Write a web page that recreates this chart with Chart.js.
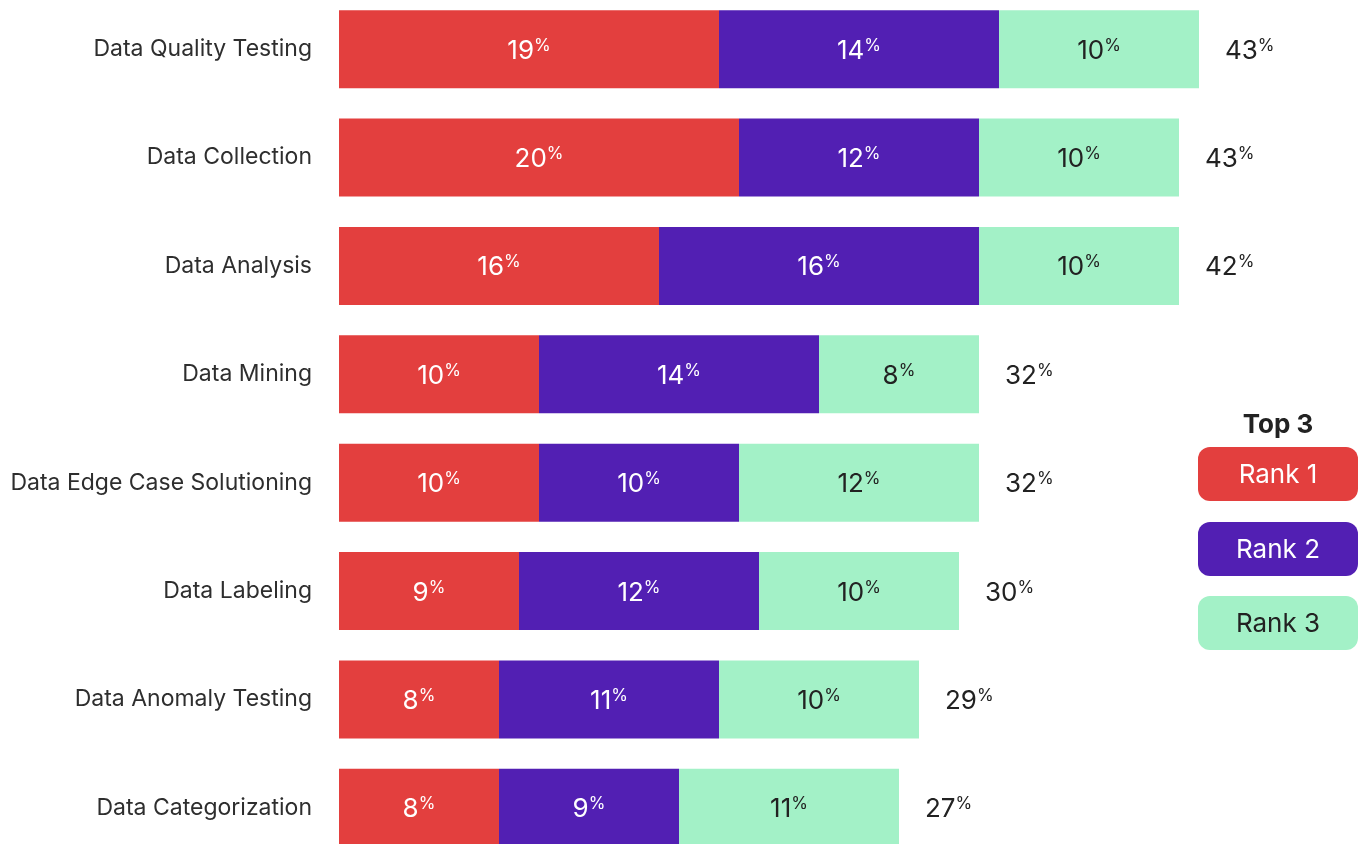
<!DOCTYPE html>
<html>
<head>
<meta charset="utf-8">
<script src="https://cdn.jsdelivr.net/npm/chart.js@4.4.0/dist/chart.umd.min.js"></script>
<style>
  html, body { margin: 0; padding: 0; background: #fff; overflow: hidden; }
  body { width: 1359px; height: 844px; position: relative; font-family: Inter, sans-serif; }
  #wrap { position: absolute; left: 0; top: -5px; width: 1359px; height: 867px; }
  #legend { position: absolute; left: 1198px; top: 404px; width: 160px; }
  #legend .title { text-align: center; font-weight: 700; font-size: 26px; color: #222; height: 40px; line-height: 40px; margin-bottom: 3px; }
  #legend .item { height: 54px; border-radius: 12px; margin-bottom: 20.5px; text-align: center; line-height: 54px; font-size: 26px; }
</style>
</head>
<body>
<div id="wrap"><canvas id="chart"></canvas></div>
<div id="legend"></div>
<script>
const categories = ['Data Quality Testing', 'Data Collection', 'Data Analysis', 'Data Mining',
  'Data Edge Case Solutioning', 'Data Labeling', 'Data Anomaly Testing', 'Data Categorization'];
const rank1 = [19, 20, 16, 10, 10, 9, 8, 8];
const rank2 = [14, 12, 16, 14, 10, 12, 11, 9];
const rank3 = [10, 10, 10, 8, 12, 10, 10, 11];
const totals = [43, 43, 42, 32, 32, 30, 29, 27];
const seriesNames = ['Rank 1', 'Rank 2', 'Rank 3'];
const seriesColors = ['#e33f3e', '#521fb3', '#a3f1c7'];
const textColors = ['#ffffff', '#ffffff', '#222222'];

const legendEl = document.getElementById('legend');
legendEl.innerHTML = '<div class="title">Top 3</div>' + seriesNames.map((n, i) =>
  `<div class="item" style="background:${seriesColors[i]};color:${textColors[i]}">${n}</div>`).join('');

function drawPct(ctx, value, x, y, color, align) {
  ctx.save();
  ctx.fillStyle = color;
  ctx.textBaseline = 'alphabetic';
  ctx.textAlign = 'left';
  const numFont = '400 26px Inter';
  const supFont = '400 17px Inter';
  ctx.font = numFont;
  const wNum = ctx.measureText(String(value)).width;
  ctx.font = supFont;
  const wSup = ctx.measureText('%').width;
  const total = wNum + wSup;
  const x0 = align === 'center' ? x - total / 2 : x;
  ctx.font = numFont;
  ctx.fillText(String(value), x0, y + 9.5);
  ctx.font = supFont;
  ctx.fillText('%', x0 + wNum, y + 1.5);
  ctx.restore();
}

const labelPlugin = {
  id: 'pctLabels',
  afterDatasetsDraw(chart) {
    const ctx = chart.ctx;
    chart.data.datasets.forEach((ds, di) => {
      const meta = chart.getDatasetMeta(di);
      meta.data.forEach((bar, i) => {
        const cx = (bar.x + bar.base) / 2;
        drawPct(ctx, ds.data[i], cx, bar.y, textColors[di], 'center');
      });
    });
    const last = chart.getDatasetMeta(chart.data.datasets.length - 1);
    last.data.forEach((bar, i) => {
      drawPct(ctx, totals[i], bar.x + 26, bar.y, '#222222', 'left');
    });
  }
};

new Chart(document.getElementById('chart'), {
  type: 'bar',
  data: {
    labels: categories,
    datasets: [rank1, rank2, rank3].map((d, i) => ({
      label: seriesNames[i],
      data: d,
      backgroundColor: seriesColors[i],
      borderWidth: 0,
      barPercentage: 0.72,
      categoryPercentage: 1
    }))
  },
  options: {
    indexAxis: 'y',
    responsive: true,
    maintainAspectRatio: false,
    animation: false,
    layout: { padding: 0 },
    plugins: { legend: { display: false }, tooltip: { enabled: false } },
    scales: {
      x: { stacked: true, min: 0, max: 51, display: false },
      y: {
        stacked: true,
        grid: { display: false, drawTicks: false },
        border: { display: false },
        ticks: { padding: 27, color: '#2e2e2e', font: { family: 'Inter', size: 23 } },
        afterFit(scale) {
          scale.width = 339;
          scale.paddingTop = 0;
          scale.paddingBottom = 0;
        }
      }
    }
  },
  plugins: [labelPlugin]
});
</script>
</body>
</html>
